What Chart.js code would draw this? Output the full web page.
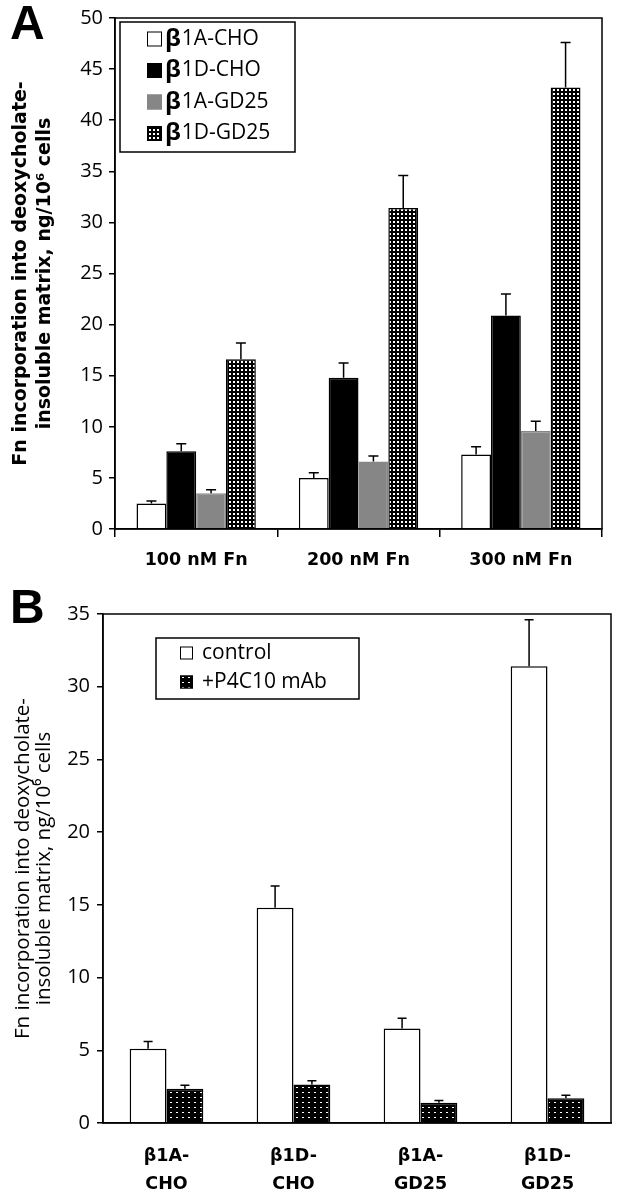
<!DOCTYPE html>
<html>
<head>
<meta charset="utf-8">
<script src="https://cdn.jsdelivr.net/npm/chart.js@4.4.1/dist/chart.umd.min.js"></script>
<style>
    body { margin: 0; background: #fff; }
    #wrap { position: relative; width: 620px; height: 1199px; }
    canvas { position: absolute; left: 0; }
    .letter { position: absolute; left: 10px; font: bold 48px "Liberation Sans", Arial, sans-serif; line-height: 1; }
</style>
</head>
<body>
<div id="wrap">
    <canvas id="chartA" width="620" height="585" style="top:0"></canvas>
    <canvas id="chartB" width="620" height="614" style="top:585px"></canvas>
    <div class="letter" style="top:-1px">A</div>
    <div class="letter" style="top:583px">B</div>
</div>
<script>
// Panel A - Fn concentration series
const doseLabels = ["100 nM Fn", "200 nM Fn", "300 nM Fn"];
const a1Cho = [2.5, 5.0, 7.3];
const a1ChoErr = [0.25, 0.5, 0.75];
const d1Cho = [7.6, 14.8, 20.9];
const d1ChoErr = [0.75, 1.45, 2.1];
const a1Gd25 = [3.5, 6.6, 9.6];
const a1Gd25Err = [0.35, 0.55, 0.95];
const d1Gd25 = [16.6, 31.4, 43.2];
const d1Gd25Err = [1.6, 3.2, 4.4];

// Panel B - antibody block
const cellLabels = [["β1A-", "CHO"], ["β1D-", "CHO"], ["β1A-", "GD25"], ["β1D-", "GD25"]];
const controlVals = [5.1, 14.8, 6.5, 31.4];
const controlErr = [0.5, 1.5, 0.7, 3.2];
const p4c10Vals = [2.35, 2.65, 1.4, 1.7];
const p4c10Err = [0.25, 0.25, 0.15, 0.2];

const yTitle = ["Fn incorporation into deoxycholate-", "insoluble matrix, ng/10\u2076 cells"];

const SANS = '"Open Sans", sans-serif';
const WIDE = '"DejaVu Sans", sans-serif';
Chart.defaults.font.family = SANS;
Chart.defaults.color = "#000";

function gridPattern() {
    const c = document.createElement("canvas");
    c.width = 4; c.height = 4;
    const g = c.getContext("2d");
    g.fillStyle = "#000"; g.fillRect(0, 0, 4, 4);
    g.fillStyle = "#fff"; g.fillRect(1, 1, 2, 2);
    return g.createPattern(c, "repeat");
}

function dotPattern() {
    const c = document.createElement("canvas");
    c.width = 6; c.height = 5;
    const g = c.getContext("2d");
    g.fillStyle = "#000"; g.fillRect(0, 0, 6, 5);
    g.fillStyle = "#fff"; g.fillRect(2, 2, 2, 1);
    return g.createPattern(c, "repeat");
}

// upward error bars with a cap
const errorBars = {
    id: "errorBars",
    afterDatasetsDraw(chart, args, opts) {
        const ctx = chart.ctx;
        const y = chart.scales.y;
        ctx.save();
        ctx.strokeStyle = "#000";
        ctx.lineWidth = 1.5;
        chart.data.datasets.forEach((ds, i) => {
            if (!ds.errors) return;
            chart.getDatasetMeta(i).data.forEach((bar, j) => {
                const top = y.getPixelForValue(ds.data[j]);
                const hi = y.getPixelForValue(ds.data[j] + ds.errors[j]);
                ctx.beginPath();
                ctx.moveTo(bar.x, top);
                ctx.lineTo(bar.x, hi);
                ctx.moveTo(bar.x - opts.cap / 2, hi);
                ctx.lineTo(bar.x + opts.cap / 2, hi);
                ctx.stroke();
            });
        });
        ctx.restore();
    }
};

// box around the plot area
const frame = {
    id: "frame",
    afterDatasetsDraw(chart) {
        const { left, top, right, bottom } = chart.chartArea;
        const ctx = chart.ctx;
        ctx.save();
        ctx.strokeStyle = "#000";
        ctx.lineWidth = 1.5;
        ctx.strokeRect(left, top, right - left, bottom - top);
        ctx.restore();
    }
};

// boxed legend inside the plot
const boxLegend = {
    id: "boxLegend",
    afterDraw(chart, args, o) {
        const ctx = chart.ctx;
        ctx.save();
        ctx.fillStyle = "#fff";
        ctx.fillRect(o.x, o.y, o.w, o.h);
        ctx.strokeStyle = "#000";
        ctx.lineWidth = 1.5;
        ctx.strokeRect(o.x, o.y, o.w, o.h);
        ctx.textBaseline = "middle";
        chart.data.datasets.forEach((ds, i) => {
            const cy = o.rowTop + i * o.rowStep;
            ctx.fillStyle = ds.backgroundColor;
            ctx.fillRect(o.swatchX, cy - o.swatch / 2, o.swatch, o.swatch);
            ctx.lineWidth = 1;
            ctx.strokeStyle = ds.borderColor;
            ctx.strokeRect(o.swatchX + 0.5, cy - o.swatch / 2 + 0.5, o.swatch - 1, o.swatch - 1);
            ctx.fillStyle = "#000";
            let x = o.textX;
            let rest = ds.label;
            if (rest.startsWith("β")) {
                ctx.font = "bold " + (o.fontSize + 3) + "px " + SANS;
                ctx.fillText("β", x, cy);
                x += ctx.measureText("β").width + 1;
                rest = rest.slice(1);
            }
            ctx.font = o.fontSize + "px " + SANS;
            ctx.fillText(rest, x, cy);
        });
        ctx.restore();
    }
};

const grid = gridPattern();
const dots = dotPattern();

new Chart(document.getElementById("chartA").getContext("2d"), {
    type: "bar",
    data: {
        labels: doseLabels,
        datasets: [
            { label: "β1A-CHO", data: a1Cho, errors: a1ChoErr, backgroundColor: "#fff", borderColor: "#000", borderWidth: 1.5 },
            { label: "β1D-CHO", data: d1Cho, errors: d1ChoErr, backgroundColor: "#000", borderColor: "#000", borderWidth: 1.5 },
            { label: "β1A-GD25", data: a1Gd25, errors: a1Gd25Err, backgroundColor: "#868686", borderColor: "#868686", borderWidth: 1.5 },
            { label: "β1D-GD25", data: d1Gd25, errors: d1Gd25Err, backgroundColor: grid, borderColor: "#000", borderWidth: 1.5 }
        ]
    },
    plugins: [frame, errorBars, boxLegend],
    options: {
        responsive: false,
        animation: false,
        layout: { padding: { top: 15, right: 18, left: 0, bottom: 0 } },
        datasets: { bar: { categoryPercentage: 0.735, barPercentage: 1.0 } },
        plugins: {
            legend: { display: false },
            tooltip: { enabled: false },
            errorBars: { cap: 10 },
            boxLegend: { x: 120, y: 22, w: 175, h: 130, rowTop: 39, rowStep: 31.5, swatchX: 147, swatch: 15, textX: 165, fontSize: 21 }
        },
        scales: {
            x: {
                grid: { drawOnChartArea: false, drawTicks: true, tickLength: 8, color: "#000", lineWidth: 1.5, offset: true },
                border: { display: true, color: "#000", width: 1.5 },
                ticks: { font: { family: WIDE, size: 17.5, weight: "bold" }, padding: 13 },
                afterFit: (s) => { s.height = 56; }
            },
            y: {
                min: 0,
                max: 50,
                ticks: { stepSize: 5, font: { size: 20 }, padding: 6 },
                grid: { drawOnChartArea: false, tickLength: 6, color: "#000", lineWidth: 1.5 },
                border: { color: "#000", width: 1.5 },
                title: { display: true, text: yTitle, font: { family: WIDE, size: 19, weight: "bold", lineHeight: 1.25 }, padding: { top: 9, bottom: 0 } },
                afterFit: (s) => { s.width = 115; }
            }
        }
    }
});

new Chart(document.getElementById("chartB").getContext("2d"), {
    type: "bar",
    data: {
        labels: cellLabels,
        datasets: [
            { label: "control", data: controlVals, errors: controlErr, backgroundColor: "#fff", borderColor: "#000", borderWidth: 1.5 },
            { label: "+P4C10 mAb", data: p4c10Vals, errors: p4c10Err, backgroundColor: dots, borderColor: "#000", borderWidth: 1.5 }
        ]
    },
    plugins: [frame, errorBars, boxLegend],
    options: {
        responsive: false,
        animation: false,
        layout: { padding: { top: 29, right: 9, left: 0, bottom: 0 } },
        datasets: { bar: { categoryPercentage: 0.58, barPercentage: 1.0 } },
        plugins: {
            legend: { display: false },
            tooltip: { enabled: false },
            errorBars: { cap: 9 },
            boxLegend: { x: 156, y: 53, w: 203, h: 61, rowTop: 68, rowStep: 29, swatchX: 180, swatch: 13, textX: 202, fontSize: 21 }
        },
        scales: {
            x: {
                grid: { display: false },
                border: { display: true, color: "#000", width: 1.5 },
                ticks: { font: { family: WIDE, size: 17.5, weight: "bold", lineHeight: 1.6 }, padding: 11 },
                afterFit: (s) => { s.height = 76; }
            },
            y: {
                min: 0,
                max: 35,
                ticks: { stepSize: 5, font: { size: 20 }, padding: 7 },
                grid: { drawOnChartArea: false, tickLength: 6, color: "#000", lineWidth: 1.5 },
                border: { color: "#000", width: 1.5 },
                title: { display: true, text: yTitle, font: { size: 20.5, lineHeight: 1.05 }, padding: { top: 12, bottom: 0 } },
                afterFit: (s) => { s.width = 103; }
            }
        }
    }
});
</script>
</body>
</html>
